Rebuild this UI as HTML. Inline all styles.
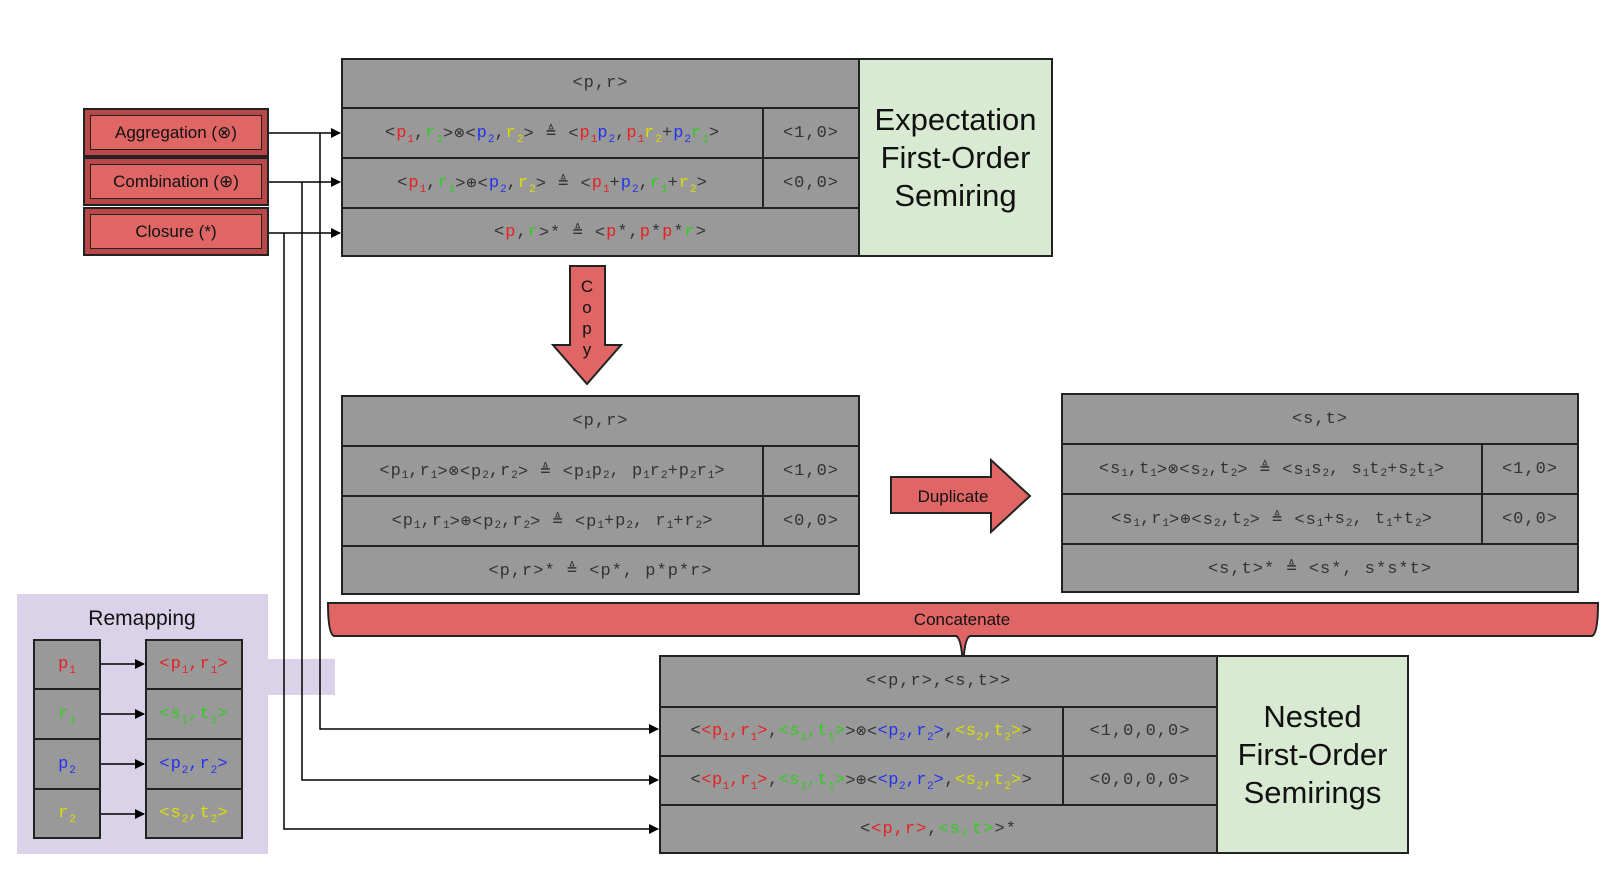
<!DOCTYPE html>
<html><head><meta charset="utf-8"><style>
body{margin:0;width:1616px;height:874px;background:#fff;position:relative;overflow:hidden;font-family:"Liberation Sans",sans-serif}
.c{position:absolute;box-sizing:border-box;border:2px solid #222;background:#999;display:flex;align-items:center;justify-content:center;font-family:"Liberation Mono",monospace;font-size:17px;letter-spacing:1px;color:#333;white-space:nowrap}
.g{position:absolute;box-sizing:border-box;border:2px solid #222;background:#d9ead3;display:flex;align-items:center;justify-content:center;text-align:center;font-size:31px;line-height:38px;color:#111}
i{font-style:normal;font-size:11px;position:relative;top:5px;letter-spacing:0}
.r{color:#e82020}.n{color:#33cc22}.b{color:#2233ee}.y{color:#dddd00}
.btn{position:absolute;left:83px;width:186px;height:49px;box-sizing:border-box;background:#b84848;border:2px solid #222}
.btn div{position:absolute;left:5px;top:5px;right:5px;bottom:5px;background:#e06666;border:1.5px solid #222;display:flex;align-items:center;justify-content:center;font-size:17px;color:#111}
</style></head><body>
<svg width="1616" height="874" style="position:absolute;left:0;top:0">
<defs><marker id="a" markerWidth="10" markerHeight="10" refX="9" refY="5" orient="auto" markerUnits="userSpaceOnUse"><path d="M0,0 L10,5 L0,10z" fill="#000"/></marker></defs>
<rect x="17" y="594" width="251" height="260" fill="#d9d2e9"/>
<rect x="266" y="659" width="69" height="36" fill="#d9d2e9"/>
<g stroke="#000" stroke-width="1.5" fill="none">
<path d="M269,133 H340" marker-end="url(#a)"/>
<path d="M269,182 H340" marker-end="url(#a)"/>
<path d="M269,233 H340" marker-end="url(#a)"/>
<path d="M320,133 V729 H658" marker-end="url(#a)"/>
<path d="M302,182 V780 H658" marker-end="url(#a)"/>
<path d="M284,233 V829 H658" marker-end="url(#a)"/>
<path d="M101,664 H144" marker-end="url(#a)"/>
<path d="M101,714 H144" marker-end="url(#a)"/>
<path d="M101,764 H144" marker-end="url(#a)"/>
<path d="M101,814 H144" marker-end="url(#a)"/>
</g>
<polygon points="570,266 605,266 605,345 621,345 587,384 553,345 570,345" fill="#e06666" stroke="#222" stroke-width="2"/>
<g font-size="17" text-anchor="middle" fill="#111"><text x="587" y="292">C</text><text x="587" y="313">o</text><text x="587" y="334">p</text><text x="587" y="355">y</text></g>
<polygon points="891,477 991,477 991,460 1030,496 991,532 991,513 891,513" fill="#e06666" stroke="#222" stroke-width="2"/>
<text x="953" y="502" font-size="17" text-anchor="middle" fill="#111">Duplicate</text>
<path d="M328,603 H1598 Q1598,634 1592,636 H970 Q964,638 963,670 Q962,638 956,636 H334 Q328,634 328,603z" fill="#e06666" stroke="#222" stroke-width="2"/>
<text x="962" y="625" font-size="17" text-anchor="middle" fill="#111">Concatenate</text>
<text x="142" y="625" font-size="21" text-anchor="middle" fill="#111">Remapping</text>
</svg>

<div class="btn" style="top:108px"><div>Aggregation (⊗)</div></div>
<div class="btn" style="top:157px"><div>Combination (⊕)</div></div>
<div class="btn" style="top:207px"><div>Closure (*)</div></div>

<!-- Table 1 -->
<div class="c" style="left:341px;top:58px;width:519px;height:51px">&lt;p,r&gt;</div>
<div class="c" style="left:341px;top:107px;width:423px;height:52px">&lt;<span class="r">p<i>1</i></span>,<span class="n">r<i>1</i></span>&gt;⊗&lt;<span class="b">p<i>2</i></span>,<span class="y">r<i>2</i></span>&gt; ≜ &lt;<span class="r">p<i>1</i></span><span class="b">p<i>2</i></span> , <span class="r">p<i>1</i></span><span class="y">r<i>2</i></span>+<span class="b">p<i>2</i></span><span class="n">r<i>1</i></span>&gt;</div>
<div class="c" style="left:762px;top:107px;width:98px;height:52px">&lt;1,0&gt;</div>
<div class="c" style="left:341px;top:157px;width:423px;height:52px">&lt;<span class="r">p<i>1</i></span>,<span class="n">r<i>1</i></span>&gt;⊕&lt;<span class="b">p<i>2</i></span>,<span class="y">r<i>2</i></span>&gt; ≜ &lt;<span class="r">p<i>1</i></span>+<span class="b">p<i>2</i></span> , <span class="n">r<i>1</i></span>+<span class="y">r<i>2</i></span>&gt;</div>
<div class="c" style="left:762px;top:157px;width:98px;height:52px">&lt;0,0&gt;</div>
<div class="c" style="left:341px;top:207px;width:519px;height:50px">&lt;<span class="r">p</span>,<span class="n">r</span>&gt;* ≜ &lt;<span class="r">p</span>*, <span class="r">p</span>*<span class="r">p</span>*<span class="n">r</span>&gt;</div>
<div class="g" style="left:858px;top:58px;width:195px;height:199px">Expectation<br>First-Order<br>Semiring</div>

<!-- Table 2 -->
<div class="c" style="left:341px;top:395px;width:519px;height:52px">&lt;p,r&gt;</div>
<div class="c" style="left:341px;top:445px;width:423px;height:52px">&lt;p<i>1</i>,r<i>1</i>&gt;⊗&lt;p<i>2</i>,r<i>2</i>&gt; ≜ &lt;p<i>1</i>p<i>2</i> , p<i>1</i>r<i>2</i>+p<i>2</i>r<i>1</i>&gt;</div>
<div class="c" style="left:762px;top:445px;width:98px;height:52px">&lt;1,0&gt;</div>
<div class="c" style="left:341px;top:495px;width:423px;height:52px">&lt;p<i>1</i>,r<i>1</i>&gt;⊕&lt;p<i>2</i>,r<i>2</i>&gt; ≜ &lt;p<i>1</i>+p<i>2</i> , r<i>1</i>+r<i>2</i>&gt;</div>
<div class="c" style="left:762px;top:495px;width:98px;height:52px">&lt;0,0&gt;</div>
<div class="c" style="left:341px;top:545px;width:519px;height:50px">&lt;p,r&gt;* ≜ &lt;p*, p*p*r&gt;</div>

<!-- Table 3 -->
<div class="c" style="left:1061px;top:393px;width:518px;height:52px">&lt;s,t&gt;</div>
<div class="c" style="left:1061px;top:443px;width:422px;height:52px">&lt;s<i>1</i>,t<i>1</i>&gt;⊗&lt;s<i>2</i>,t<i>2</i>&gt; ≜ &lt;s<i>1</i>s<i>2</i> , s<i>1</i>t<i>2</i>+s<i>2</i>t<i>1</i>&gt;</div>
<div class="c" style="left:1481px;top:443px;width:98px;height:52px">&lt;1,0&gt;</div>
<div class="c" style="left:1061px;top:493px;width:422px;height:52px">&lt;s<i>1</i>,r<i>1</i>&gt;⊕&lt;s<i>2</i>,t<i>2</i>&gt; ≜ &lt;s<i>1</i>+s<i>2</i> , t<i>1</i>+t<i>2</i>&gt;</div>
<div class="c" style="left:1481px;top:493px;width:98px;height:52px">&lt;0,0&gt;</div>
<div class="c" style="left:1061px;top:543px;width:518px;height:50px">&lt;s,t&gt;* ≜ &lt;s*, s*s*t&gt;</div>

<!-- Table 4 -->
<div class="c" style="left:659px;top:655px;width:559px;height:53px">&lt;&lt;p,r&gt;,&lt;s,t&gt;&gt;</div>
<div class="c" style="left:659px;top:706px;width:405px;height:51px;letter-spacing:0.5px">&lt;<span class="r">&lt;p<i>1</i>,r<i>1</i>&gt;</span>,<span class="n">&lt;s<i>1</i>,t<i>1</i>&gt;</span>&gt;⊗&lt;<span class="b">&lt;p<i>2</i>,r<i>2</i>&gt;</span>,<span class="y">&lt;s<i>2</i>,t<i>2</i>&gt;</span>&gt;</div>
<div class="c" style="left:1062px;top:706px;width:156px;height:51px">&lt;1,0,0,0&gt;</div>
<div class="c" style="left:659px;top:755px;width:405px;height:51px;letter-spacing:0.5px">&lt;<span class="r">&lt;p<i>1</i>,r<i>1</i>&gt;</span>,<span class="n">&lt;s<i>1</i>,t<i>1</i>&gt;</span>&gt;⊕&lt;<span class="b">&lt;p<i>2</i>,r<i>2</i>&gt;</span>,<span class="y">&lt;s<i>2</i>,t<i>2</i>&gt;</span>&gt;</div>
<div class="c" style="left:1062px;top:755px;width:156px;height:51px">&lt;0,0,0,0&gt;</div>
<div class="c" style="left:659px;top:804px;width:559px;height:50px">&lt;<span class="r">&lt;p,r&gt;</span>,<span class="n">&lt;s,t&gt;</span>&gt;*</div>
<div class="g" style="left:1216px;top:655px;width:193px;height:199px">Nested<br>First-Order<br>Semirings</div>

<!-- Remapping -->
<div class="c" style="left:33px;top:639px;width:68px;height:51px"><span class="r">p<i>1</i></span></div>
<div class="c" style="left:33px;top:688px;width:68px;height:52px"><span class="n">r<i>1</i></span></div>
<div class="c" style="left:33px;top:738px;width:68px;height:52px"><span class="b">p<i>2</i></span></div>
<div class="c" style="left:33px;top:788px;width:68px;height:51px"><span class="y">r<i>2</i></span></div>
<div class="c" style="left:145px;top:639px;width:98px;height:51px"><span class="r">&lt;p<i>1</i>,r<i>1</i>&gt;</span></div>
<div class="c" style="left:145px;top:688px;width:98px;height:52px"><span class="n">&lt;s<i>1</i>,t<i>1</i>&gt;</span></div>
<div class="c" style="left:145px;top:738px;width:98px;height:52px"><span class="b">&lt;p<i>2</i>,r<i>2</i>&gt;</span></div>
<div class="c" style="left:145px;top:788px;width:98px;height:51px"><span class="y">&lt;s<i>2</i>,t<i>2</i>&gt;</span></div>
</body></html>
